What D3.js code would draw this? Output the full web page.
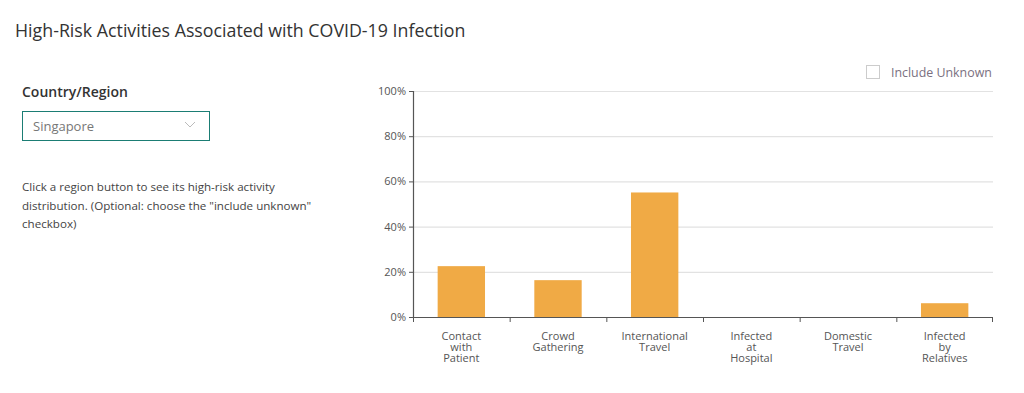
<!DOCTYPE html>
<html>
<head>
<meta charset="utf-8">
<script src="https://cdn.jsdelivr.net/npm/d3@7"></script>
<style>
  body { margin: 0; background: #fff; font-family: "Open Sans", "Noto Sans", sans-serif; }
  .page { position: relative; width: 1024px; height: 393px; overflow: hidden; }
  .title { position: absolute; left: 15px; top: 18px; font-size: 17.8px; color: #333; }
  .label { position: absolute; left: 22px; top: 82px; font-size: 14px; font-weight: 600; color: #333; }
  .select { position: absolute; left: 22px; top: 111px; width: 186px; height: 28px; border: 1px solid #1b7d74; box-sizing: content-box; }
  .select span { position: absolute; left: 10px; top: 5px; font-size: 13px; color: #777; }
  .desc { position: absolute; left: 22px; top: 178px; width: 340px; font-size: 11.6px; line-height: 18.5px; color: #444; white-space: nowrap; }
  svg { position: absolute; left: 0; top: 0; }
</style>
</head>
<body>
<div class="page">
  <div class="title">High-Risk Activities Associated with COVID-19 Infection</div>
  <div class="label">Country/Region</div>
  <div class="select"><span>Singapore</span></div>
  <div class="desc">Click a region button to see its high-risk activity<br>distribution. (Optional: choose the "include unknown"<br>checkbox)</div>
  <svg id="chart" width="1024" height="393"></svg>
</div>
<script>
const categories = [
  ['Contact', 'with', 'Patient'],
  ['Crowd', 'Gathering'],
  ['International', 'Travel'],
  ['Infected', 'at', 'Hospital'],
  ['Domestic', 'Travel'],
  ['Infected', 'by', 'Relatives']
]
const values = [0.225, 0.163, 0.551, 0, 0, 0.061]
const yTicks = [0, 0.2, 0.4, 0.6, 0.8, 1]

const svg = d3.select('#chart')

// dropdown chevron
svg.append('path')
  .attr('d', 'M185,122 L190,127 L195,122')
  .attr('fill', 'none').attr('stroke', '#bbb').attr('stroke-width', 1)

// include unknown checkbox
svg.append('rect')
  .attr('x', 866.5).attr('y', 65.5).attr('width', 13).attr('height', 13)
  .attr('fill', '#fff').attr('stroke', '#ccc')
svg.append('text')
  .attr('x', 891).attr('y', 76.5)
  .attr('font-size', 12.4).attr('fill', '#7a7080')
  .attr('font-family', '"Open Sans", sans-serif')
  .text('Include Unknown')

const margins = { top: 91, left: 413, right: 31, bottom: 76 }
const gWidth = 1024 - margins.left - margins.right
const gHeight = 393 - margins.top - margins.bottom

const graph = svg.append('g').attr('transform', `translate(${margins.left}, ${margins.top})`)

const names = categories.map(d => d.join(' '))

const x = d3.scaleBand()
  .domain(names)
  .range([0, gWidth])
  .paddingInner(0.51)
  .paddingOuter(0.255)

const xTicks = d3.scaleBand().domain(names).range([0, gWidth])

const y = d3.scaleLinear()
  .domain([0, 1])
  .range([gHeight, 0])

// grid lines
graph.append('g')
  .selectAll('line')
  .data(yTicks.slice(1))
  .enter()
  .append('line')
  .attr('x1', 0).attr('x2', gWidth)
  .attr('y1', d => y(d) + 0.5).attr('y2', d => y(d) + 0.5)
  .attr('stroke', '#e2e2e2').attr('stroke-width', 1.2)

// bars
graph.selectAll('rect.bar')
  .data(values)
  .enter()
  .append('rect')
  .attr('class', 'bar')
  .attr('x', (d, i) => x(names[i]))
  .attr('width', x.bandwidth())
  .attr('y', d => y(d))
  .attr('height', d => gHeight - y(d))
  .attr('fill', '#f0aa45')

// axes
const yAxis = d3.axisLeft(y).tickValues(yTicks).tickFormat(d => Math.round(d * 100) + '%').tickSize(4)
const yAxisGroup = graph.append('g').call(yAxis)

const xAxisGroup = graph.append('g').attr('transform', `translate(0, ${gHeight})`)
xAxisGroup.append('path')
  .attr('d', `M0,0.5H${gWidth}`)
  .attr('stroke', '#555').attr('stroke-width', 1.2)
xAxisGroup.selectAll('line.tick')
  .data(d3.range(names.length + 1))
  .enter()
  .append('line')
  .attr('class', 'tick')
  .attr('x1', i => i < names.length ? xTicks(names[i]) + 0.5 : gWidth - 0.5)
  .attr('x2', i => i < names.length ? xTicks(names[i]) + 0.5 : gWidth - 0.5)
  .attr('y1', 0).attr('y2', 5)
  .attr('stroke', '#555')

const labels = xAxisGroup.selectAll('text.cat')
  .data(categories)
  .enter()
  .append('text')
  .attr('class', 'cat')
  .attr('x', (d, i) => xTicks(names[i]) + xTicks.bandwidth() / 2)
  .attr('y', 23)
  .attr('text-anchor', 'middle')
  .attr('font-size', 11)
  .attr('fill', '#555')
  .attr('font-family', '"Open Sans", sans-serif')

labels.selectAll('tspan')
  .data(d => d)
  .enter()
  .append('tspan')
  .attr('x', function () { return d3.select(this.parentNode).attr('x') })
  .attr('dy', (d, i) => i === 0 ? 0 : 11)
  .text(d => d)

yAxisGroup.select('.domain').attr('stroke', '#555').attr('stroke-width', 1.2)
yAxisGroup.selectAll('.tick line').attr('stroke', '#555')
yAxisGroup.selectAll('text')
  .attr('font-size', 11)
  .attr('fill', '#555')
  .attr('font-family', '"Open Sans", sans-serif')
</script>
</body>
</html>
